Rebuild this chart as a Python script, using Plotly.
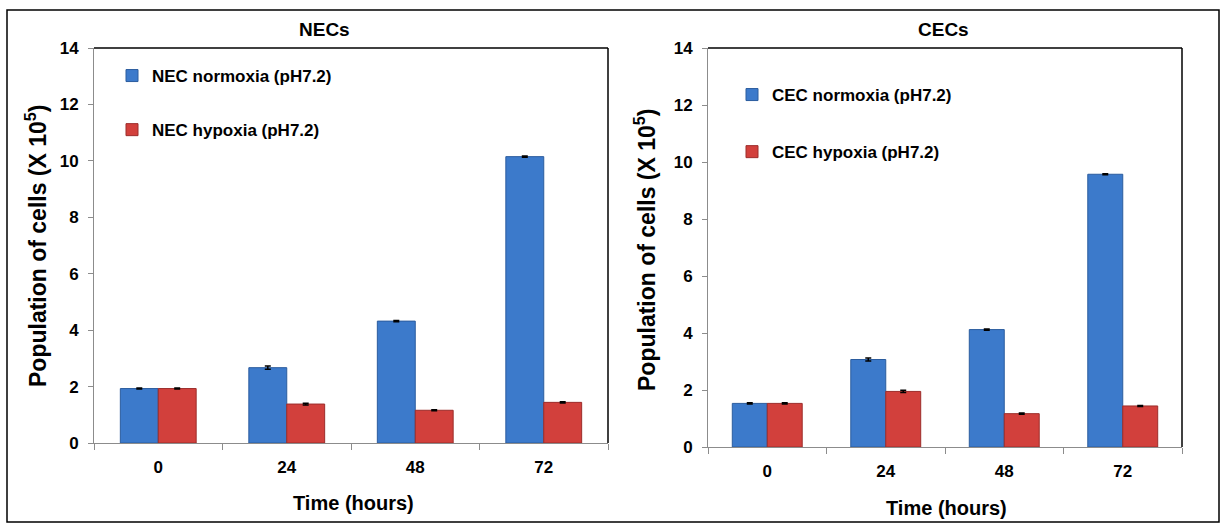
import plotly.graph_objects as go

W, H = 1227, 531

time_labels = ["0", "24", "48", "72"]

nec_normoxia = [1.93, 2.67, 4.32, 10.15]
nec_normoxia_err = [0.02, 0.06, 0.02, 0.02]
nec_hypoxia = [1.93, 1.38, 1.16, 1.44]
nec_hypoxia_err = [0.02, 0.03, 0.02, 0.02]

cec_normoxia = [1.53, 3.07, 4.12, 9.57]
cec_normoxia_err = [0.02, 0.05, 0.02, 0.02]
cec_hypoxia = [1.53, 1.95, 1.17, 1.44]
cec_hypoxia_err = [0.02, 0.04, 0.02, 0.02]

BLUE = "#3c7acb"
BLUE_LINE = "#2b5c9e"
RED = "#d2403c"
RED_LINE = "#9c2c2a"
FONT = "Liberation Sans, Arial, sans-serif"


def px(x):
    return x / W


def py(y):
    return 1 - y / H


def bar(name, x, y, err, color, line, xa, ya, legend, group):
    return go.Bar(
        name=name, x=x, y=y, xaxis=xa, yaxis=ya, legend=legend, legendgroup=group,
        marker=dict(color=color, line=dict(color=line, width=1)),
        error_y=dict(type="data", array=err, color="black", thickness=1.5, width=3),
    )


fig = go.Figure()
fig.add_trace(bar("NEC normoxia (pH7.2)", time_labels, nec_normoxia, nec_normoxia_err, BLUE, BLUE_LINE, "x", "y", "legend", "a"))
fig.add_trace(bar("NEC hypoxia (pH7.2)", time_labels, nec_hypoxia, nec_hypoxia_err, RED, RED_LINE, "x", "y", "legend", "b"))
fig.add_trace(bar("CEC normoxia (pH7.2)", time_labels, cec_normoxia, cec_normoxia_err, BLUE, BLUE_LINE, "x2", "y2", "legend2", "c"))
fig.add_trace(bar("CEC hypoxia (pH7.2)", time_labels, cec_hypoxia, cec_hypoxia_err, RED, RED_LINE, "x2", "y2", "legend2", "d"))

tickfont = dict(family=FONT, size=17, color="black", weight="bold")
xcommon = dict(type="category", showline=True, linecolor="#8c8c8c", linewidth=1,
               ticks="outside", tickson="boundaries", ticklen=6, tickcolor="#8c8c8c",
               tickfont=tickfont, showgrid=False, zeroline=False, automargin=False,
               ticklabelstandoff=9)
ycommon = dict(range=[0, 14], dtick=2, showline=True, linecolor="#8c8c8c", linewidth=1,
               ticks="outside", ticklen=5, tickcolor="#8c8c8c", tickfont=tickfont,
               showgrid=False, zeroline=False, automargin=False, ticklabelstandoff=6)

legfont = dict(family=FONT, size=17, color="black", weight="bold")

fig.update_layout(
    width=W, height=H,
    margin=dict(l=0, r=0, t=0, b=0),
    paper_bgcolor="white", plot_bgcolor="white",
    barmode="group", bargap=0.41, bargroupgap=0,
    font=dict(family=FONT, color="black"),
    xaxis=dict(domain=[px(94), px(608)], anchor="y", **xcommon),
    yaxis=dict(domain=[py(443), py(48)], anchor="x", **ycommon),
    xaxis2=dict(domain=[px(708), px(1182)], anchor="y2", **xcommon),
    yaxis2=dict(domain=[py(447), py(48)], anchor="x2", **ycommon),
    legend=dict(x=px(112), y=py(58), xanchor="left", yanchor="top", font=legfont,
                bgcolor="rgba(0,0,0,0)", tracegroupgap=29, itemwidth=30),
    legend2=dict(x=px(732), y=py(77), xanchor="left", yanchor="top", font=legfont,
                 bgcolor="rgba(0,0,0,0)", tracegroupgap=32, itemwidth=30),
    showlegend=True,
)

shapes = []
for xd, yd in (("x domain", "y domain"), ("x2 domain", "y2 domain")):
    shapes.append(dict(type="line", xref=xd, yref=yd, x0=0, x1=1, y0=1, y1=1,
                       line=dict(color="black", width=1.5)))
    shapes.append(dict(type="line", xref=xd, yref=yd, x0=1, x1=1, y0=0, y1=1,
                       line=dict(color="black", width=1.5)))
shapes.append(dict(type="rect", xref="paper", yref="paper", x0=px(7), x1=px(1219),
                   y0=py(522), y1=py(10), line=dict(color="black", width=1.5)))
fig.update_layout(shapes=shapes)

titlefont = dict(family=FONT, size=19, color="black", weight="bold")
xtfont = dict(family=FONT, size=20, color="black", weight="bold")
ytfont = dict(family=FONT, size=23, color="black", weight="bold")
ann = [
    dict(text="NECs", x=px(324), y=py(29), font=titlefont),
    dict(text="CECs", x=px(943), y=py(29), font=titlefont),
    dict(text="Time (hours)", x=px(353), y=py(503), font=xtfont),
    dict(text="Time (hours)", x=px(947), y=py(508), font=xtfont),
    dict(text="Population of cells (X 10<sup>5</sup>)", x=px(36), y=py(246), font=ytfont, textangle=-90),
    dict(text="Population of cells (X 10<sup>5</sup>)", x=px(645), y=py(250), font=ytfont, textangle=-90),
]
fig.update_layout(annotations=[dict(xref="paper", yref="paper", showarrow=False,
                                    xanchor="center", yanchor="middle", **a) for a in ann])

fig.write_html("out.html", config={"displayModeBar": False},
               post_script="document.body.style.margin='0';document.body.style.overflow='hidden';")
